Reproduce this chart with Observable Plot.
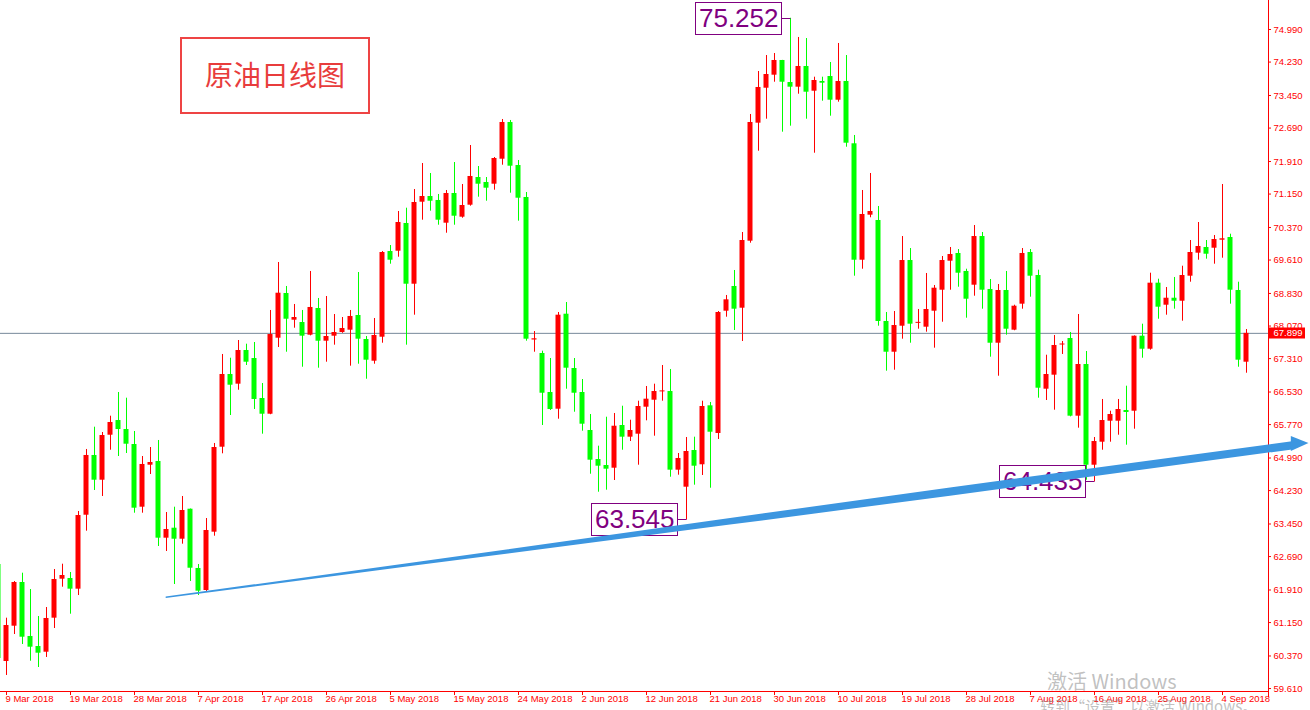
<!DOCTYPE html>
<html><head><meta charset="utf-8">
<script src="https://cdn.jsdelivr.net/npm/d3@7"></script>
<script src="https://cdn.jsdelivr.net/npm/@observablehq/plot@0.6"></script>
<style>
body{margin:0;background:#fff;}
#wrap{position:relative;width:1310px;height:710px;overflow:hidden;background:#fff;}
#chart{position:absolute;left:0;top:0;}
.title{position:absolute;left:180px;top:37px;width:186px;height:69px;border:2px solid #ee4444;color:#e83c3c;font:28px "Noto Sans CJK SC",sans-serif;display:flex;align-items:center;justify-content:center;padding-bottom:4px;box-sizing:content-box;background:#fff;}
.wm1{position:absolute;left:1047px;top:671px;font:20px "Noto Sans CJK SC",sans-serif;color:rgba(140,140,140,0.55);white-space:nowrap;line-height:1;}
.wm2{position:absolute;left:1040px;top:698px;font:15px "Noto Sans CJK SC",sans-serif;color:rgba(140,140,140,0.55);white-space:nowrap;line-height:1;}
</style>
</head><body>
<div id="wrap"><div id="chart"></div>
<div class="title">原油日线图</div>
<div class="wm1">激活 Windows</div>
<div class="wm2">转到“设置”以激活 Windows。</div>
</div>
<script>
// ---- data (daily bars, first bar = 8 Mar 2018, index -1) ----
const firstBar = -1;
const opens = [62.505,60.241,61.065,62.085,60.825,60.591,60.458,61.252,62.162,62.178,61.929,63.655,65.049,64.472,65.522,65.865,65.655,65.305,63.842,64.822,64.909,63.119,63.352,63.095,63.795,62.412,61.898,63.259,65.242,66.939,66.713,67.499,67.312,66.379,66.012,67.786,68.829,68.206,68.152,67.856,68.479,67.716,67.833,67.919,67.973,68.316,67.756,67.249,67.809,69.809,69.816,70.463,69.046,70.960,71.093,71.000,70.470,71.163,70.610,70.890,71.536,71.420,71.380,71.963,72.820,71.816,71.070,67.744,67.429,66.519,66.129,68.346,67.079,66.519,65.632,64.955,64.815,64.752,65.749,65.476,65.546,66.176,66.339,66.535,66.542,64.706,64.309,65.165,64.832,66.208,65.562,68.416,68.993,68.486,70.050,72.804,73.620,73.924,74.267,73.753,73.644,74.127,73.550,73.777,73.893,73.340,73.777,72.323,69.606,70.657,70.533,68.176,67.459,68.066,69.599,68.136,68.043,68.416,68.906,69.583,69.763,69.343,69.023,70.159,68.923,67.669,68.899,67.973,68.580,69.786,69.249,66.596,66.923,67.632,67.779,65.966,67.172,64.822,65.359,65.849,65.849,66.099,66.082,67.833,67.529,69.070,68.556,68.719,68.649,69.233,69.770,69.903,69.886,70.073,70.136,68.899,67.226];
const highs = [62.528,61.252,62.108,62.302,61.921,61.291,61.501,62.388,62.512,62.318,63.742,65.189,65.709,65.585,65.966,66.519,66.386,65.609,65.025,65.235,65.399,63.718,63.842,64.092,63.800,62.505,63.578,65.329,67.406,67.319,67.732,67.646,67.686,66.729,68.433,69.553,68.993,68.573,68.433,69.343,68.713,68.759,68.339,68.269,68.433,69.319,67.826,68.246,69.809,69.949,70.743,70.820,71.256,71.863,71.630,71.140,71.233,71.886,71.373,72.283,71.793,71.536,72.003,72.890,72.867,71.933,71.186,67.942,67.483,67.312,68.386,68.619,67.312,66.822,66.005,65.266,65.942,66.029,66.199,65.872,66.316,66.659,66.713,67.149,67.056,65.095,65.469,65.476,66.316,66.286,68.409,68.783,69.366,70.253,73.007,74.010,74.383,74.430,74.270,75.252,74.804,74.780,73.877,73.877,74.220,74.664,74.383,72.517,71.233,71.630,70.860,68.386,68.409,70.159,69.879,68.456,69.296,69.016,69.693,69.903,69.856,69.396,70.416,70.253,69.156,69.039,69.343,68.556,69.879,69.856,69.373,67.389,67.849,67.709,67.919,68.339,67.476,65.469,66.356,66.082,66.356,66.666,67.840,68.113,69.303,69.163,68.969,69.203,69.466,70.066,70.486,70.066,70.183,71.373,70.213,69.093,67.989];
const lows = [60.218,59.915,60.871,60.638,60.248,60.101,60.335,61.011,61.975,61.345,61.781,63.282,64.232,64.092,65.172,65.025,65.095,63.702,63.702,64.605,62.925,62.808,62.038,62.979,62.108,61.781,61.875,63.165,65.088,65.982,66.572,67.149,66.122,65.546,66.000,67.569,67.459,68.019,67.109,67.840,67.086,67.226,67.623,67.900,67.133,67.179,66.829,67.179,67.669,69.513,69.676,67.623,68.323,70.540,70.750,70.423,70.236,70.423,70.586,70.867,71.077,70.983,71.240,71.823,71.170,70.517,67.716,67.459,65.749,66.099,65.896,66.596,66.059,65.616,64.612,64.192,64.239,64.465,65.172,65.375,64.822,65.858,65.499,66.316,64.542,64.589,63.545,64.356,64.582,64.285,65.422,68.276,67.966,67.709,70.003,72.150,72.897,73.760,72.594,72.734,73.480,72.897,72.103,73.317,72.967,73.294,72.243,69.233,69.396,70.596,68.066,67.016,67.039,67.763,67.669,67.996,67.926,67.553,68.159,68.906,68.976,68.253,68.766,68.463,67.343,66.899,67.856,67.960,68.463,68.743,66.386,66.332,66.106,67.406,65.950,65.686,64.472,64.435,65.172,65.359,65.522,65.289,65.662,67.319,67.506,68.229,68.323,68.463,68.183,69.093,69.606,69.630,69.513,69.653,68.580,67.109,66.969];
const closes = [60.311,61.081,62.085,60.808,60.575,60.435,61.245,62.155,62.248,61.929,63.648,65.049,64.472,65.515,65.819,65.655,65.312,63.819,64.839,64.885,63.119,63.322,63.095,63.765,62.418,61.882,63.298,65.235,66.939,66.689,67.499,67.226,66.356,66.012,67.872,68.836,68.229,68.269,67.833,68.503,67.716,67.826,67.919,68.012,68.293,67.763,67.273,67.849,69.786,69.606,70.486,69.046,70.953,71.093,70.983,70.540,71.163,70.633,70.883,71.560,71.380,71.287,71.980,72.820,71.800,71.053,67.763,67.772,66.502,66.122,68.323,67.086,66.502,65.779,64.939,64.799,64.729,65.732,65.476,65.632,66.192,66.363,66.542,66.554,64.706,64.979,65.142,64.799,66.192,65.592,68.386,68.682,68.463,70.066,72.820,73.637,73.940,74.267,73.760,73.644,74.127,73.527,73.800,73.737,73.340,73.777,72.337,69.606,70.673,70.743,68.176,67.459,68.082,69.599,68.113,68.152,68.456,68.953,69.599,69.739,69.303,68.696,70.159,68.906,67.669,68.899,67.996,68.533,69.763,69.233,66.619,66.939,67.616,67.646,65.966,67.172,64.822,65.375,65.865,66.005,66.122,66.052,67.833,67.529,69.070,68.510,68.719,68.649,69.249,69.786,69.926,69.746,70.089,70.106,68.906,67.273,67.899];

const dateLabelBars = [0,8,16,24,32,40,48,56,64,72,80,88,96,104,112,120,128,136,144,152];
const dateLabels = ["9 Mar 2018","19 Mar 2018","28 Mar 2018","7 Apr 2018","17 Apr 2018","26 Apr 2018","5 May 2018","15 May 2018","24 May 2018","2 Jun 2018","12 Jun 2018","21 Jun 2018","30 Jun 2018","10 Jul 2018","19 Jul 2018","28 Jul 2018","7 Aug 2018","16 Aug 2018","25 Aug 2018","4 Sep 2018"];
const priceTickLabels = ["74.990","74.230","73.450","72.690","71.910","71.150","70.370","69.610","68.830","68.070","67.310","66.530","65.770","64.990","64.230","63.450","62.690","61.910","61.150","60.370","59.610"];

const calloutBars = [98, 85, 136];
const calloutPrices = [75.252, 63.545, 64.435];

// hand-drawn trend arrow (bar index, lower edge, upper edge)
const trendBars = [19.96, 51.75, 90.5, 118, 160.75];
const trendLo = [61.709, 62.486, 63.424, 64.099, 65.179];
const trendHi = [61.746, 62.561, 63.578, 64.290, 65.371];
const headBars = [160.6, 162.81];
const headLo = [65.142, 65.329];
const headHi = [65.492, 65.329];

// ---- layout ----
const W = 1310, H = 710, mR = 42, mB = 19;
const xDom = [-0.75, 157.75];
const yDom = [59.541, 75.667];
const RED = "#ff0000", GREEN = "#00ff00", PURPLE = "#800080", BLUE = "#3c96e0";
const xs = d3.scaleLinear().domain(xDom).range([0, W - mR]);
const ys = d3.scaleLinear().domain(yDom).range([H - mB, 0]);
const minBody = (yDom[1] - yDom[0]) / (H - mB);

const candles = opens.map((o, k) => {
  const c = closes[k];
  let b1 = Math.min(o, c), b2 = Math.max(o, c);
  if (b2 - b1 < minBody) { const m = (b1 + b2) / 2; b1 = m - minBody / 2; b2 = m + minBody / 2; }
  return {i: firstBar + k, h: highs[k], l: lows[k], b1, b2, col: c >= o ? RED : GREEN};
});
const trend = trendBars.map((b, k) => ({b, lo: trendLo[k], hi: trendHi[k]}));
const head = headBars.map((b, k) => ({b, lo: headLo[k], hi: headHi[k]}));
const callouts = calloutBars.map((b, k) => ({b, p: calloutPrices[k], s: calloutPrices[k].toFixed(3)}));
const lastClose = closes[closes.length - 1];
const lastText = lastClose.toFixed(3);
const yTicks = priceTickLabels.map((s) => ({v: +s, s}));
const xTicks = dateLabelBars.map((b, k) => ({b, s: dateLabels[k]}));

const svg = Plot.plot({
  width: W, height: H,
  marginTop: 0, marginLeft: 0, marginRight: mR, marginBottom: mB,
  x: {domain: xDom, axis: null},
  y: {domain: yDom, axis: null},
  color: {type: "identity"},
  style: {background: "white", fontFamily: "'Liberation Sans', Arial, sans-serif", fontSize: "9.5px", overflow: "visible"},
  marks: [
    Plot.ruleY([lastClose], {stroke: "#76889a", strokeWidth: 1}),
    Plot.ruleX(candles, {x: "i", y1: "l", y2: "h", stroke: "col", strokeWidth: 1}),
    Plot.rect(candles, {x1: d => d.i - 0.3125, x2: d => d.i + 0.3125, y1: "b1", y2: "b2", fill: "col"}),
    // axes frame
    Plot.ruleY([yDom[0]], {stroke: RED}),
    Plot.ruleX([xDom[1]], {y1: ys.invert(H - 13), y2: yDom[1], stroke: RED}),
    Plot.ruleX(xTicks, {x: "b", y1: yDom[0], y2: ys.invert(H - mB + 4), stroke: RED}),
    Plot.text(xTicks, {x: "b", text: "s", frameAnchor: "bottom", dy: 10, dx: -1, textAnchor: "start", fill: RED}),
    Plot.ruleY(yTicks, {y: "v", x1: xDom[1], x2: xs.invert(W - mR + 3), stroke: RED}),
    Plot.text(yTicks, {y: "v", text: "s", frameAnchor: "right", dx: 5, textAnchor: "start", fill: RED}),
    // current price tag
    Plot.text([lastClose], {y: d => d, text: () => lastText, frameAnchor: "right", dx: 5, textAnchor: "start", fill: "white"}),
    // callouts
    Plot.text(callouts, {x: "b", y: "p", text: "s", textAnchor: "end", dx: -12, fill: PURPLE, fontSize: 26}),
    // trend arrow (on top)
    Plot.areaY(trend, {x: "b", y1: "lo", y2: "hi", fill: BLUE}),
    Plot.areaY(head, {x: "b", y1: "lo", y2: "hi", fill: BLUE})
  ]
});
document.getElementById("chart").appendChild(svg);

// boxes behind callout texts and the price tag
const NS = "http://www.w3.org/2000/svg";
function topGroup(el) { let g = el; while (g.parentNode && g.parentNode !== svg) g = g.parentNode; return g; }
function addBefore(el, tag, attrs) {
  const n = document.createElementNS(NS, tag);
  for (const k in attrs) n.setAttribute(k, attrs[k]);
  svg.insertBefore(n, topGroup(el));
  return n;
}
const calloutTexts = callouts.map(d => d.s);
Array.from(svg.querySelectorAll("text")).forEach(t => {
  const s = t.textContent;
  const k = calloutTexts.indexOf(s);
  if (k >= 0) {
    const d = callouts[k];
    const bb = t.getBBox();
    const bx = Math.round(xs(d.b)), by = Math.round(ys(d.p));
    const w = Math.round(bb.width + 6);
    addBefore(t, "rect", {x: bx - 9 - w + 0.5, y: by - 16 + 0.5, width: w, height: 32, fill: "white", stroke: PURPLE, "stroke-width": 1});
    addBefore(t, "line", {x1: bx - 9, x2: bx + 0.5, y1: by + 0.5, y2: by + 0.5, stroke: PURPLE, "stroke-width": 1});
  } else if (s === lastText) {
    const bb = t.getBBox();
    const by = Math.round(ys(lastClose));
    addBefore(t, "rect", {x: xs(xDom[1]) + 1, y: by - 5.5, width: Math.round(bb.width + 7), height: 11, fill: RED});
  }
});
</script>
</body></html>
